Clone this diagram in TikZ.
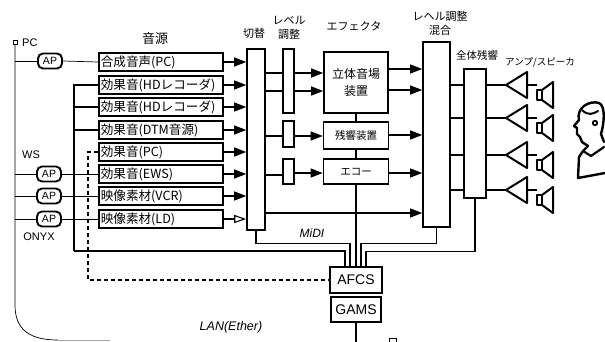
\documentclass[tikz,border=0pt]{standalone}
\usepackage{fontspec}
\newfontfamily\jp{Noto Sans CJK JP}
\newfontfamily\hv{Liberation Sans}
\usetikzlibrary{arrows.meta}
\begin{document}
\begin{tikzpicture}[x=1pt,y=-1pt,
  box/.style={draw, line width=1.6pt, inner sep=0pt},
  src/.style={box, anchor=west, minimum height=18pt, text width=120pt,
    inner xsep=2pt, align=left, font=\jp\fontsize{12.6}{14}\selectfont},
  ap/.style={draw, line width=1.9pt, rounded corners=5pt, minimum width=24pt,
    minimum height=15pt, inner sep=0pt, font=\hv\fontsize{10.5}{12}\selectfont},
  arr/.style={-{Triangle[length=12pt,width=9pt]}, line width=1.1pt},
  openarr/.style={-{Triangle[open,length=12pt,width=8pt]}, line width=1.1pt},
  ln/.style={line width=1.1pt},
  thin/.style={line width=0.7pt},
  hdr/.style={font=\jp\fontsize{11}{14}\selectfont, align=center, inner sep=0pt},
  lbl/.style={font=\hv\fontsize{11}{13}\selectfont, inner sep=0pt},
  ital/.style={font=\hv\itshape\fontsize{12.5}{14}\selectfont, inner sep=0pt},
  dashline/.style={line width=1.3pt, dash pattern=on 4pt off 3pt},
  sym/.style={line width=2pt, line join=round},
]
\useasboundingbox (0,0) rectangle (605,342);

% ---- headings
\node[hdr, font=\jp\fontsize{13}{15}\selectfont] (hsrc) at (155,39) {音源};
\node[hdr] (hsw)  at (254,33) {切替};
\node[hdr] (hlv)  at (289,28) {レベル\\調整};
\node[hdr] (hfx)  at (354,26) {エフェクタ};
\node[hdr] (hmix) at (440,23) {レヘル調整\\混合};
\node[hdr, font=\jp\fontsize{10.5}{12}\selectfont] (hrev) at (477,55) {全体残響};
\node[hdr, font=\jp\fontsize{9.5}{11}\selectfont] (hamp) at (540,62) {アンプ/スピーカ};

% ---- host labels
\node[draw, line width=0.6pt, minimum size=4pt, inner sep=0pt] (pcport) at (15,42) {};
\node[lbl, anchor=west] (lpc) at (22,43) {PC};
\node[lbl] (lws) at (31,155) {WS};
\node[lbl] (lonyx) at (39,237) {ONYX};

% ---- sound sources
\node[src] (s1) at (98,62)  {合成音声(PC)};
\node[src] (s2) at (98,85)  {効果音(HDレコーダ)};
\node[src] (s3) at (98,107) {効果音(HDレコーダ)};
\node[src] (s4) at (98,130) {効果音(DTM音源)};
\node[src] (s5) at (98,152) {効果音(PC)};
\node[src] (s6) at (98,174) {効果音(EWS)};
\node[src] (s7) at (98,196) {映像素材(VCR)};
\node[src] (s8) at (98,219) {映像素材(LD)};

% ---- AP interfaces
\node[ap] (ap1) at (50,61)  {AP};
\node[ap] (ap2) at (49,174) {AP};
\node[ap] (ap3) at (49,196) {AP};
\node[ap] (ap4) at (49,219) {AP};

% ---- switcher, level bars, effectors, mixer, reverb
\node[box, minimum width=18pt, minimum height=181pt] (sw) at (256,139.5) {};
\node[box, minimum width=11pt, minimum height=64pt] (b1) at (288.5,81) {};
\node[box, minimum width=11pt, minimum height=26pt] (b2) at (288.5,134) {};
\node[box, minimum width=11pt, minimum height=25pt] (b3) at (288.5,171.5) {};
\node[box, minimum width=64pt, minimum height=61pt, align=center,
  font=\jp\fontsize{12}{17}\selectfont] (fx1) at (356,82.5) {立体音場\\装置};
\node[box, minimum width=65pt, minimum height=27pt,
  font=\jp\fontsize{10.5}{12}\selectfont] (fx2) at (356,135.5) {残響装置};
\node[box, minimum width=65pt, minimum height=25pt,
  font=\jp\fontsize{10.5}{12}\selectfont] (fx3) at (356,171.5) {エコー};
\node[box, minimum width=27pt, minimum height=185pt] (mix) at (436.5,134.5) {};
\node[box, minimum width=22pt, minimum height=129pt] (rev) at (475,133.5) {};

% ---- control units
\node[box, minimum width=52pt, minimum height=26pt, font=\hv\fontsize{14}{16}\selectfont] (afcs) at (356,280) {AFCS};
\node[box, minimum width=50pt, minimum height=25pt, font=\hv\fontsize{14}{16}\selectfont] (gams) at (356,309.5) {GAMS};

% ---- LAN
\coordinate (lan0) at (15,44);
\draw[thin] (pcport.south) -- (15,305) .. controls (15,330) and (30,340) .. (58,340);
\draw[thin, black!35] (58,340) -- (110,340);
\node[ital] (llan) at (231,327) {LAN(Ether)};
\draw[ln] (gams.south) -- ++(0,22);
\node[draw, line width=0.6pt, minimum width=7pt, minimum height=8pt, inner sep=0pt] (port2) at (393,342) {};

% host links through the AP interfaces
\foreach \a/\s in {ap1/s1, ap2/s6, ap3/s7, ap4/s8}{
  \draw[thin] (lan0 |- \a.west) -- (\a.west);
  \draw[thin] (\a.east) -- (\s.west);
}

% ---- sources into the switcher
\foreach \s in {s1,s2,s3,s4,s5,s6,s7}{
  \draw[arr] (\s.east) -- (\s.east -| sw.west);
}
\draw[openarr] (s8.east) -- (s8.east -| sw.west);

% ---- switcher to level bars
\foreach \b/\y in {b1/73, b1/91, b2/136, b3/175}{
  \draw[ln] (sw.east |- 0,\y) -- (\b.west |- 0,\y);
}
% level bars to effectors
\draw[arr] (b1.east |- 0,73) -- (fx1.west |- 0,73);
\draw[arr] (b1.east |- 0,91) -- (fx1.west |- 0,91);
\draw[arr] (b2.east |- 0,136) -- (fx2.west |- 0,136);
\draw[arr] (b3.east |- 0,173) -- (fx3.west |- 0,173);
% effectors to mixer
\draw[arr] (fx1.east |- 0,69) -- (mix.west |- 0,69);
\draw[arr] (fx1.east |- 0,90) -- (mix.west |- 0,90);
\draw[arr] (fx2.east |- 0,135) -- (mix.west |- 0,135);
\draw[arr] (fx3.east |- 0,173) -- (mix.west |- 0,173);
\draw[arr] (sw.east |- 0,213) -- (mix.west |- 0,213);

% ---- control chain between effectors
\draw[ln] (fx1.south) -- (fx2.north);
\draw[ln] (fx2.south) -- (fx3.north);
\draw[ln] (fx3.south) -- (afcs.north);

% ---- control bundle into AFCS
\coordinate (brk) at (74,251);
\draw[ln] (s2.west) -| (brk);
\draw[ln] (s3.west) -- (s3.west -| brk);
\draw[ln] (s4.west) -- (s4.west -| brk);
\draw[ln] (brk) -| ([xshift=-11pt]afcs.north);
\draw[ln] (sw.south) -- ++(0,13) -| ([xshift=-6pt]afcs.north);
\draw[ln] (mix.south) -- ++(0,16) -| ([xshift=5pt]afcs.north);
\draw[ln] (rev.south) -- ++(0,53) -| ([xshift=10pt]afcs.north);
\node[ital, font=\hv\itshape\fontsize{12}{14}\selectfont] (lmidi) at (312,233) {MiDI};
\draw[dashline] (s5.west) -- ++(-10,0) |- (afcs.west);

% ---- mixer, reverb, amplifiers and speakers
\foreach \y [count=\i] in {85,118,155,190}{
  \coordinate (amp\i) at (506,\y);
  \coordinate (spk\i) at (537,\y);
  \draw[ln] (mix.east |- 0,\y) -- (rev.west |- 0,\y);
  \draw[ln] (rev.east |- 0,\y) -- (amp\i);
  \draw[sym] (amp\i) -- ++(21,-13) -- ++(0,26) -- cycle;
  \draw[ln] ([xshift=21pt]amp\i) -- (spk\i);
  \draw[sym] ([yshift=-5pt]spk\i) rectangle ++(5,10);
  \draw[sym] ([xshift=5pt,yshift=-5pt]spk\i) -- ++(11,-8) -- ++(0,26) -- ++(-11,-8);
}

% ---- listener
\draw[line width=2.4pt, line join=round, line cap=round]
  (579,120) .. controls (576,108) and (589,100) .. (599,103)
  .. controls (606,106) and (604,124) .. (601,134) -- (604,142);
\draw[line width=2.4pt, line join=round, line cap=round]
  (579,120) -- (574,126) -- (577,128) -- (577,134) -- (580,137)
  -- (582,142) -- (588,146);
\draw[line width=2pt, line cap=round] (582,110) .. controls (588,116) and (593,114) .. (598,111);
\draw[line width=1.8pt] (595,123) circle (2.2pt);
\draw[line width=2.4pt, line join=round, line cap=round]
  (588,146) -- (583,151) -- (579,157) -- (578,178) -- (605,173);
\draw[line width=2.2pt, line join=round, line cap=round]
  (583,151) -- (591,156) -- (604,147);
\end{tikzpicture}
\end{document}
